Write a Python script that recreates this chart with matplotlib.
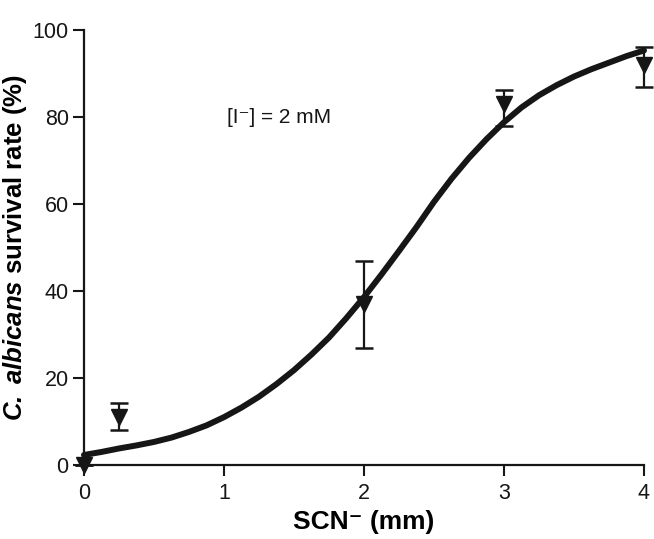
import matplotlib
matplotlib.use("Agg")
import matplotlib.pyplot as plt

# ---- data ----
conc = [0, 0.25, 2, 3, 4]
survival = [0, 11, 37, 83, 92]
err_low = [0, 3, 10, 5, 5]
err_high = [0, 3.3, 10, 3.2, 4]

fit_x = [0, 0.125, 0.25, 0.375, 0.5, 0.625, 0.75, 0.875, 1, 1.125, 1.25, 1.375, 1.5,
         1.625, 1.75, 1.875, 2, 2.125, 2.25, 2.375, 2.5, 2.625, 2.75, 2.875, 3,
         3.125, 3.25, 3.375, 3.5, 3.625, 3.75, 3.875, 4]
fit_y = [2.3, 3.0, 3.8, 4.5, 5.3, 6.3, 7.6, 9.1, 11.0, 13.2, 15.7, 18.6, 21.8,
         25.4, 29.3, 33.8, 38.6, 43.8, 49.2, 54.7, 60.5, 65.8, 70.6, 74.9, 78.8,
         82.2, 85.0, 87.3, 89.3, 91.0, 92.5, 94.0, 95.3]

xticks = [0, 1, 2, 3, 4]
yticks = [0, 20, 40, 60, 80, 100]

INK = "#161616"

plt.rcParams["font.family"] = ["Liberation Sans", "DejaVu Sans"]
plt.rcParams["mathtext.fontset"] = "custom"
plt.rcParams["mathtext.rm"] = "Liberation Sans"
plt.rcParams["mathtext.bf"] = "Liberation Sans:bold"
plt.rcParams["mathtext.it"] = "Liberation Sans:italic"
plt.rcParams["mathtext.bfit"] = "Liberation Sans:italic:bold"

fig = plt.figure(figsize=(6.54, 5.39), dpi=100)
ax = fig.add_axes([0.1284, 0.1373, 0.9847 - 0.1284, 0.9443 - 0.1373])

ax.plot(fit_x, fit_y, color=INK, lw=4.3, solid_capstyle="round", solid_joinstyle="round",
        zorder=3, clip_on=False)
ax.errorbar(conc, survival, yerr=[err_low, err_high], fmt="v", color=INK,
            ms=12, elinewidth=1.6, capsize=6.5, capthick=1.8, zorder=4, clip_on=False)

ax.set_xlim(0, 4)
ax.set_ylim(0, 100)
ax.set_xticks(xticks)
ax.set_yticks(yticks)
ax.set_xticklabels([str(t) for t in xticks])
ax.set_yticklabels([str(t) for t in yticks])

for s in ["top", "right"]:
    ax.spines[s].set_visible(False)
for s in ["left", "bottom"]:
    ax.spines[s].set_linewidth(1.6)
    ax.spines[s].set_color(INK)
ax.tick_params(axis="both", direction="out", length=8, width=1.5, labelsize=15.5,
               colors=INK)
ax.tick_params(axis="y", pad=3)
ax.tick_params(axis="x", pad=5)

ax.set_xlabel("SCN\u207b (mm)", fontsize=19, fontweight="bold", labelpad=4)
ax.set_ylabel(r"$\mathbfit{C.}$ $\mathbfit{albicans}$ survival rate (%)", fontsize=18.5,
              fontweight="bold")
ax.yaxis.set_label_coords(-0.098, 0.5)

ax.text(1.02, 79.8, "[I\u207b] = 2 mM", fontsize=15, va="center", ha="left", color=INK)

fig.savefig("out.png", dpi=100)
